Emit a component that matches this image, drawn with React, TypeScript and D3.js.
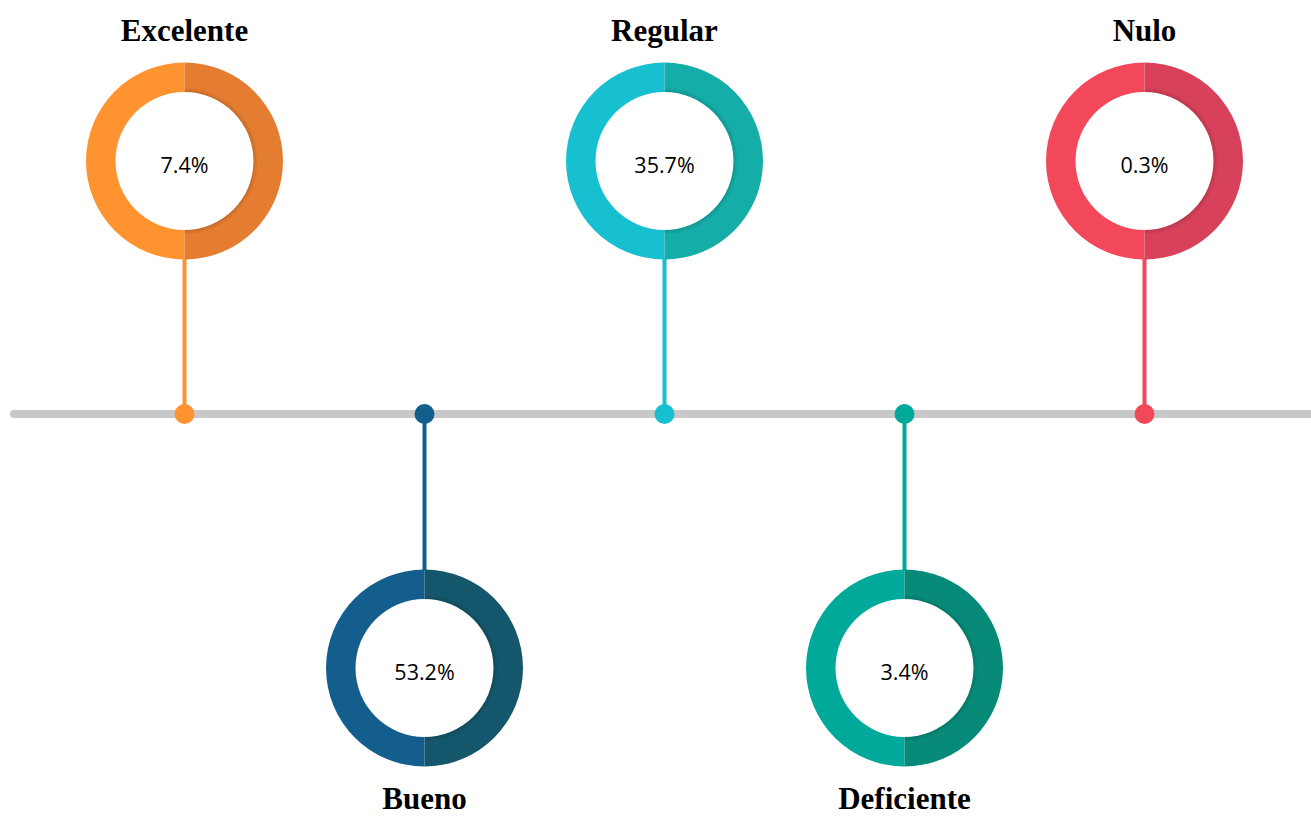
import React from "react";
import * as d3 from "d3";

const categories = ["Excelente", "Bueno", "Regular", "Deficiente", "Nulo"];
const values = [7.4, 53.2, 35.7, 3.4, 0.3];
const sides = ["top", "bottom", "top", "bottom", "top"];
const lightColors = ["#FF9330", "#135E8D", "#17C0D0", "#00A99A", "#F2485A"];
const darkColors = ["#E57D31", "#14566C", "#14ADA8", "#078B78", "#D8415A"];

const W = 1311;
const H = 816;
const lineY = 414;
const topCY = 161;
const botCY = 668;
const outerR = 98.5;
const innerR = 69;

export default function App() {
  const x = d3.scalePoint<string>().domain(categories).range([184.5, 1144.5]);
  const leftArc = d3.arc<any>()({
    innerRadius: innerR,
    outerRadius: outerR,
    startAngle: Math.PI,
    endAngle: 2 * Math.PI,
  }) as string;
  const rightArc = d3.arc<any>()({
    innerRadius: innerR,
    outerRadius: outerR,
    startAngle: 0,
    endAngle: Math.PI,
  }) as string;
  const fmt = d3.format(".1f");

  return (
    <svg
      width={W}
      height={H}
      style={{ position: "absolute", left: 0, top: 0, background: "#fff" }}
    >
      <defs>
        <radialGradient
          id="innerShade"
          gradientUnits="userSpaceOnUse"
          cx={0}
          cy={0}
          r={outerR}
        >
          <stop offset={innerR / outerR} stopColor="#000" stopOpacity={0.14} />
          <stop offset={innerR / outerR + 0.05} stopColor="#000" stopOpacity={0} />
          <stop offset={1} stopColor="#000" stopOpacity={0} />
        </radialGradient>
      </defs>
      <line
        x1={14}
        x2={W + 10}
        y1={lineY}
        y2={lineY}
        stroke="#C8C8C8"
        strokeWidth={8}
        strokeLinecap="round"
      />
      {categories.map((c, i) => {
        const cx = x(c)!;
        const isTop = sides[i] === "top";
        const cy = isTop ? topCY : botCY;
        const stemY1 = isTop ? cy + outerR - 1 : lineY;
        const stemY2 = isTop ? lineY : cy - outerR + 1;
        return (
          <g key={c}>
            <line
              x1={cx}
              x2={cx}
              y1={stemY1}
              y2={stemY2}
              stroke={lightColors[i]}
              strokeWidth={4}
            />
            <circle cx={cx} cy={lineY} r={10} fill={lightColors[i]} />
            <g transform={`translate(${cx},${cy})`}>
              <path d={leftArc} fill={lightColors[i]} />
              <path d={rightArc} fill={darkColors[i]} />
              <path d={rightArc} fill="url(#innerShade)" />
              <text
                textAnchor="middle"
                dy="0.36em"
                y={4}
                fontFamily="'Open Sans', 'Noto Sans', sans-serif"
                fontSize={21.5}
                fill="#000"
              >
                {fmt(values[i])}%
              </text>
            </g>
            <text
              x={cx}
              y={isTop ? 41 : 809}
              textAnchor="middle"
              fontFamily="'Liberation Serif', 'Times New Roman', serif"
              fontWeight="bold"
              fontSize={31}
              fill="#000"
            >
              {c}
            </text>
          </g>
        );
      })}
    </svg>
  );
}
